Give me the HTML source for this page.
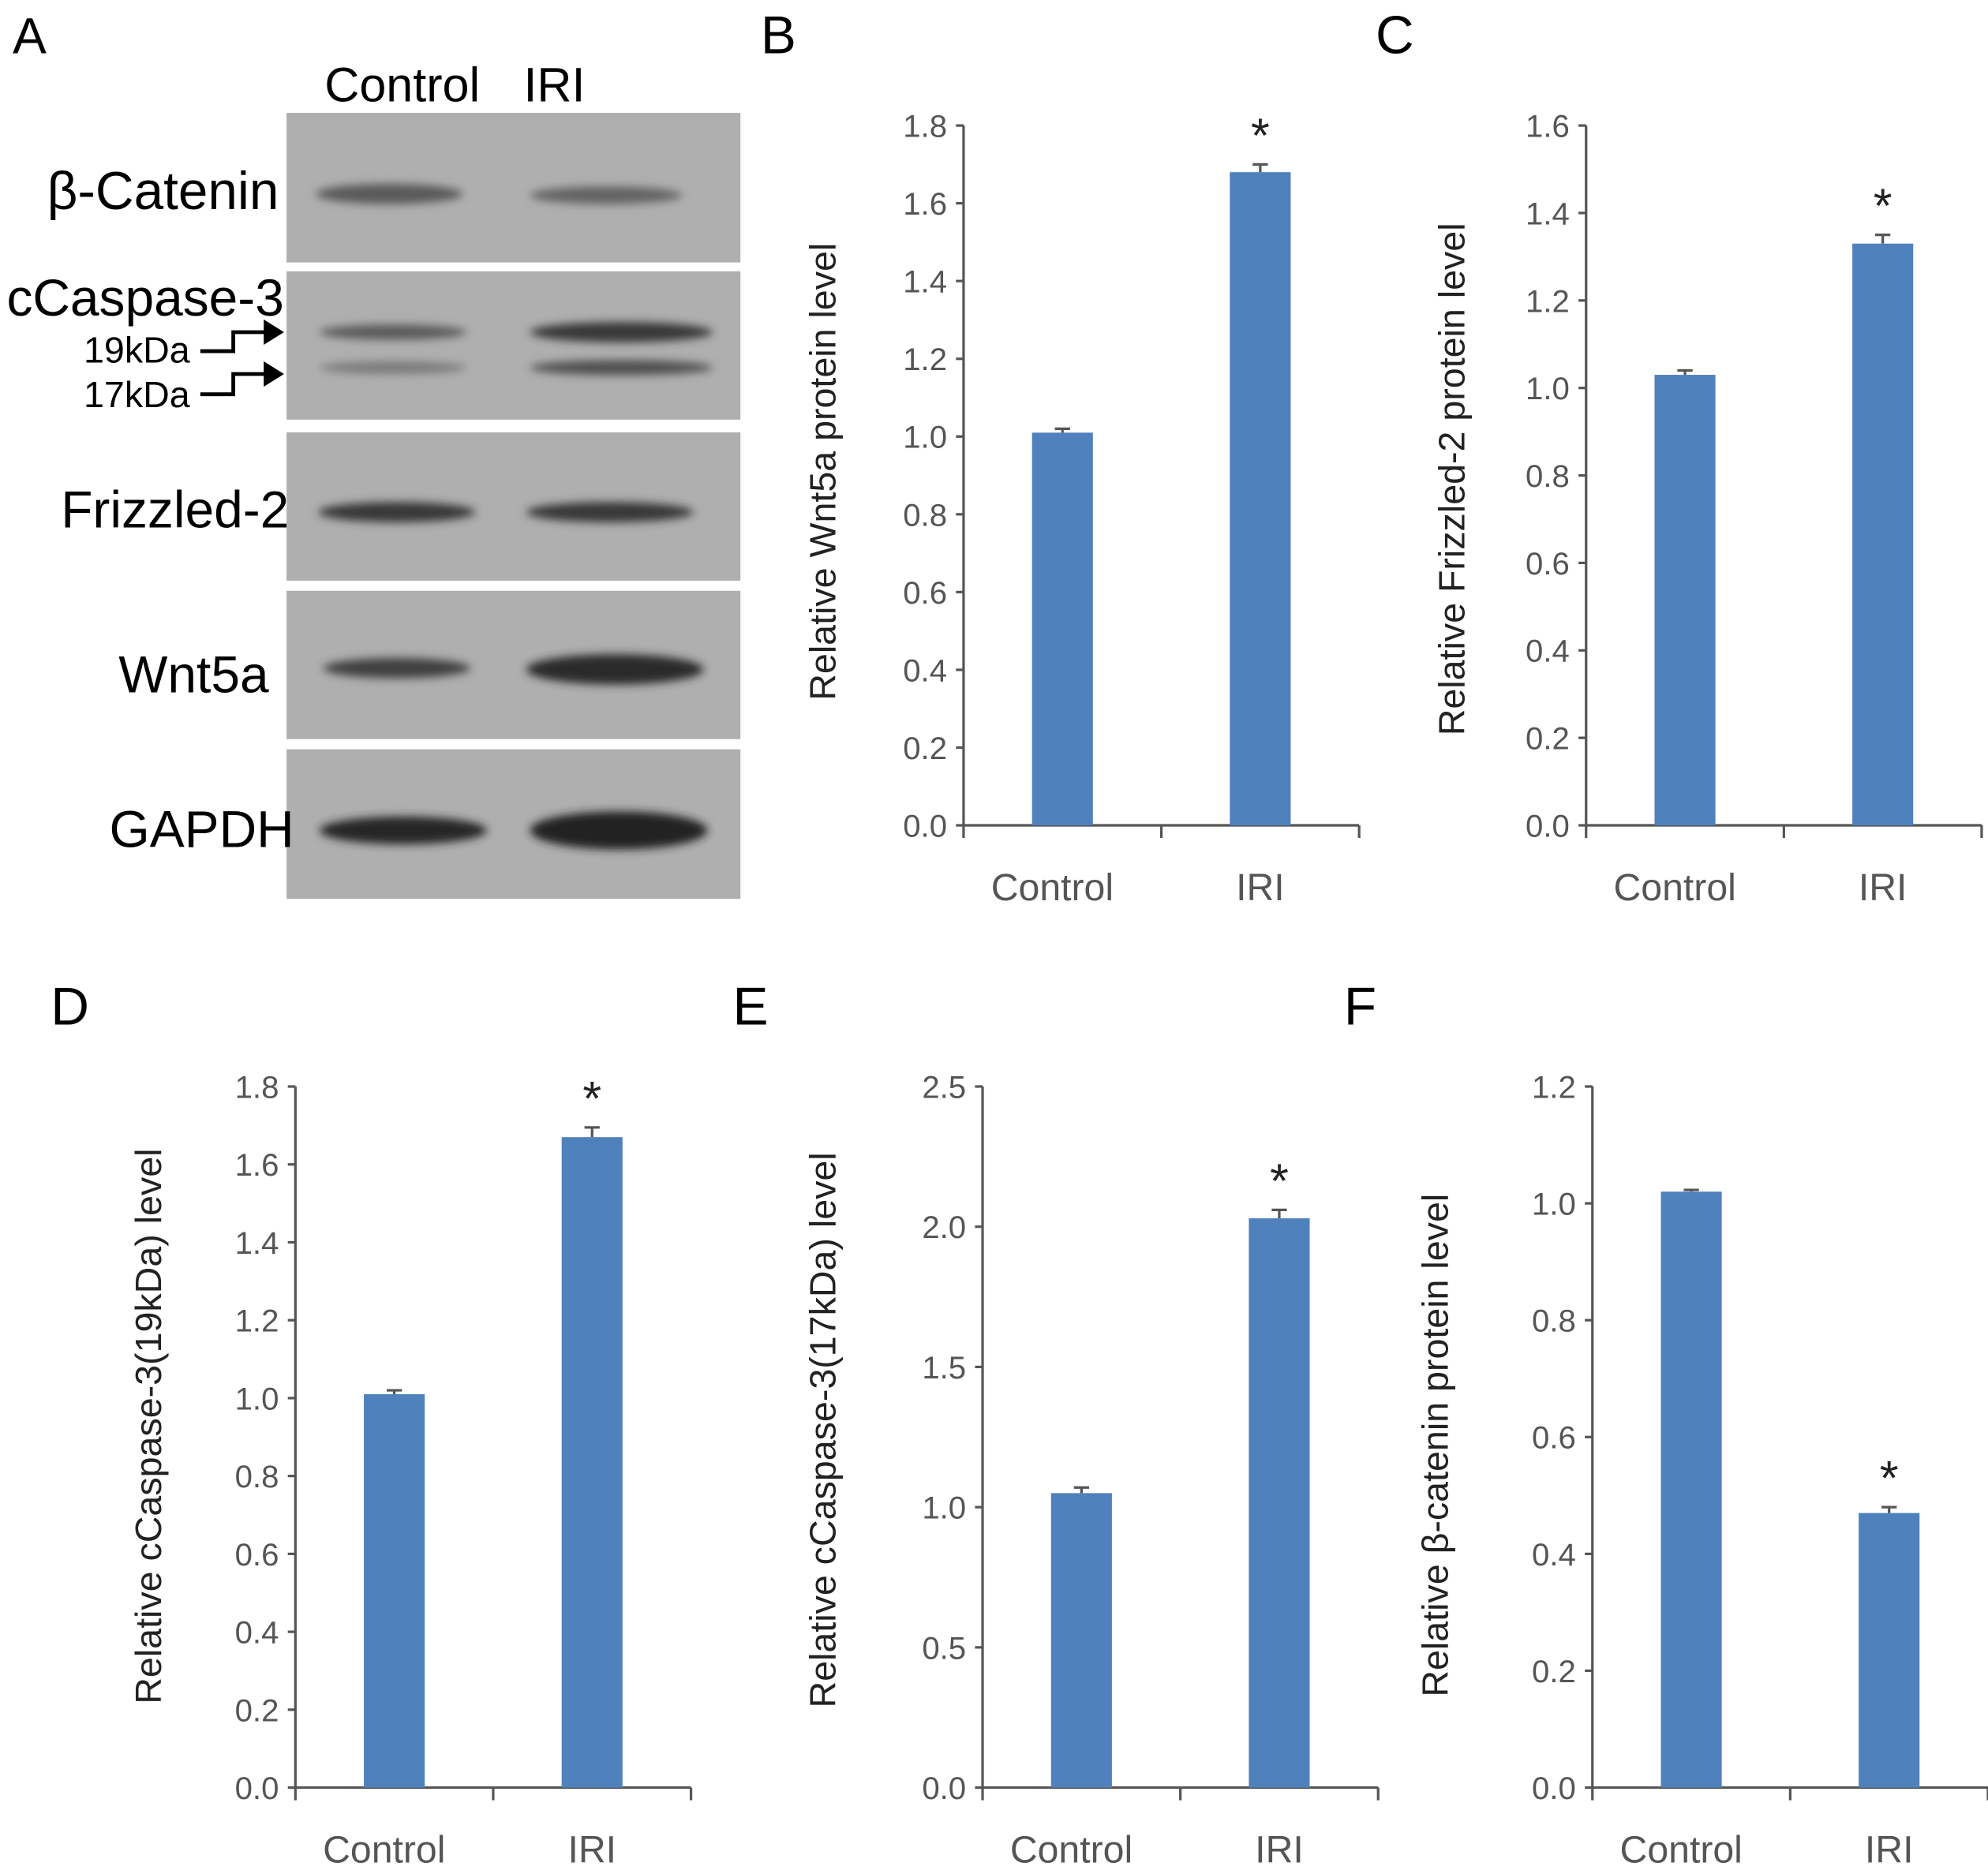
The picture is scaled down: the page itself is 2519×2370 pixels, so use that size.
<!DOCTYPE html>
<html><head><meta charset="utf-8"><style>
html,body{margin:0;padding:0;background:#fff}
svg{display:block}
</style></head><body>
<svg id="fig" width="2519" height="2370" viewBox="0 0 1568 1475" preserveAspectRatio="none" xmlns="http://www.w3.org/2000/svg" font-family="Liberation Sans, sans-serif">
<defs>
<filter id="blur" x="-20%" y="-100%" width="140%" height="300%"><feGaussianBlur stdDeviation="3.5"/></filter>
</defs>
<g>
<text x="10" y="42" font-size="40">A</text>
<text x="256" y="80" font-size="38">Control</text>
<text x="413" y="80" font-size="38">IRI</text>
<g>
<rect x="226" y="89" width="358" height="118" fill="#afafaf"/>
<ellipse cx="307" cy="153" rx="58" ry="8" fill="#5a5a5a" filter="url(#blur)"/>
<ellipse cx="478" cy="154" rx="60" ry="7" fill="#636363" filter="url(#blur)"/>
</g>
<g>
<rect x="226" y="214" width="358" height="117" fill="#afafaf"/>
<ellipse cx="310" cy="262" rx="58" ry="6" fill="#5a5a5a" filter="url(#blur)"/>
<ellipse cx="490" cy="262" rx="72" ry="8" fill="#383838" filter="url(#blur)"/>
<ellipse cx="310" cy="290" rx="58" ry="5" fill="#7a7a7a" filter="url(#blur)"/>
<ellipse cx="490" cy="290" rx="72" ry="6" fill="#505050" filter="url(#blur)"/>
</g>
<g>
<rect x="226" y="341" width="358" height="117" fill="#afafaf"/>
<ellipse cx="313" cy="404" rx="62" ry="8" fill="#383838" filter="url(#blur)"/>
<ellipse cx="481" cy="404" rx="66" ry="8" fill="#383838" filter="url(#blur)"/>
</g>
<g>
<rect x="226" y="466" width="358" height="117" fill="#afafaf"/>
<ellipse cx="313" cy="527" rx="58" ry="8" fill="#404040" filter="url(#blur)"/>
<ellipse cx="485" cy="528" rx="70" ry="12" fill="#2a2a2a" filter="url(#blur)"/>
</g>
<g>
<rect x="226" y="591" width="358" height="118" fill="#afafaf"/>
<ellipse cx="318" cy="655" rx="66" ry="11" fill="#282828" filter="url(#blur)"/>
<ellipse cx="488" cy="655" rx="70" ry="15" fill="#202020" filter="url(#blur)"/>
</g>
<text x="220" y="165" font-size="42" text-anchor="end">β-Catenin</text>
<text x="224" y="249" font-size="41" text-anchor="end">cCaspase-3</text>
<text x="66" y="286" font-size="29">19kDa</text>
<text x="66" y="321" font-size="29">17kDa</text>
<path d="M158 277 H184 V262 H210" stroke="#000" stroke-width="3" fill="none"/>
<polygon points="208,252 224,262 208,272" fill="#000"/>
<path d="M158 311 H184 V295 H210" stroke="#000" stroke-width="3" fill="none"/>
<polygon points="208,285 224,295 208,305" fill="#000"/>
<text x="228" y="416" font-size="41" text-anchor="end">Frizzled-2</text>
<text x="212" y="546" font-size="41" text-anchor="end">Wnt5a</text>
<text x="232" y="668" font-size="41" text-anchor="end">GAPDH</text>
</g>
<g id="charts"></g>
</svg>
<script>
const categories = ["Control", "IRI"];
const valuesB = [1.01, 1.68];
const errorsB = [0.01, 0.02];
const ticksB = ["0.0","0.2","0.4","0.6","0.8","1.0","1.2","1.4","1.6","1.8"];
const valuesC = [1.03, 1.33];
const errorsC = [0.01, 0.02];
const ticksC = ["0.0","0.2","0.4","0.6","0.8","1.0","1.2","1.4","1.6"];
const valuesD = [1.01, 1.67];
const errorsD = [0.01, 0.025];
const ticksD = ["0.0","0.2","0.4","0.6","0.8","1.0","1.2","1.4","1.6","1.8"];
const valuesE = [1.05, 2.03];
const errorsE = [0.02, 0.03];
const ticksE = ["0.0","0.5","1.0","1.5","2.0","2.5"];
const valuesF = [1.02, 0.47];
const errorsF = [0.003, 0.01];
const ticksF = ["0.0","0.2","0.4","0.6","0.8","1.0","1.2"];
const starFlags = [false, true];

const NS = "http://www.w3.org/2000/svg";
const root = document.getElementById("charts");
function mk(tag, attrs, parent, txt){
  const e = document.createElementNS(NS, tag);
  for (const k in attrs) e.setAttribute(k, attrs[k]);
  if (txt !== undefined) e.textContent = txt;
  parent.appendChild(e);
  return e;
}
function chart(cfg, values, errors, ticks){
  const g = mk("g", {}, root);
  
  
  const lab = mk("text", {x:cfg.lx, y:cfg.ly, "font-size":42}, g, cfg.id.toUpperCase());
  
  
  const tmax = parseFloat(ticks[ticks.length-1]);
  const y = v => cfg.y0 - (v / tmax) * (cfg.y0 - cfg.yTop);
  const w = 312;
  const x = i => cfg.x0 + w/4 + i * w/2;
  const ax = mk("g", {stroke:"#555", "stroke-width":2}, g);
  
  
  mk("line", {x1:cfg.x0, y1:cfg.yTop, x2:cfg.x0, y2:cfg.y0}, ax);
  ticks.forEach(t => {
    const yy = y(parseFloat(t));
    mk("line", {x1:cfg.x0-6, y1:yy, x2:cfg.x0, y2:yy}, ax);
    const tl = mk("text", {x:cfg.x0-13, y:yy+9, "font-size":25, "text-anchor":"end", fill:"#555", stroke:"none"}, g, t);
    
    
  });
  const xa = mk("g", {stroke:"#555", "stroke-width":2}, g);
  
  
  mk("line", {x1:cfg.x0, y1:cfg.y0, x2:cfg.x0+w, y2:cfg.y0}, xa);
  [0,1,2].forEach(i => mk("line", {x1:cfg.x0+i*w/2, y1:cfg.y0, x2:cfg.x0+i*w/2, y2:cfg.y0+10}, xa));
  categories.forEach((c,i) => {
    const b = mk("rect", {x:x(i)-24, y:y(values[i]), width:48, height:cfg.y0-y(values[i]), fill:"#4f81bd"}, g);
    
    
    const ye = y(values[i]+errors[i]);
    const eb = mk("path", {d:`M${x(i)} ${y(values[i])} V${ye} M${x(i)-6} ${ye} H${x(i)+6}`, stroke:"#555", "stroke-width":2, fill:"none"}, g);
    
    
    const cl = mk("text", {x:x(i)-(i==0?8:0), y:cfg.y0+59, "font-size":30, "text-anchor":"middle", fill:"#555"}, g, c);
    
    
    if (starFlags[i]) {
      const s = mk("text", {x:x(i), y:ye-10, "font-size":38, "text-anchor":"middle", fill:"#222"}, g, "*");
      
      
    }
  });
  const yt = mk("text", {x:0, y:0, "font-size":29, "text-anchor":"middle", fill:"#222",
    transform:`translate(${cfg.tx},${cfg.ty}) rotate(-90)`}, g, cfg.title);
  
  
}
chart({id:"b", lx:600, ly:42, x0:760, y0:651, yTop:99, tx:659, ty:372, title:"Relative Wnt5a protein level"}, valuesB, errorsB, ticksB);
chart({id:"c", lx:1085, ly:42, x0:1251, y0:651, yTop:99, tx:1155, ty:378, title:"Relative Frizzled-2 protein level"}, valuesC, errorsC, ticksC);
chart({id:"d", lx:40, ly:808, x0:233, y0:1410, yTop:857, tx:127, ty:1125, title:"Relative cCaspase-3(19kDa) level"}, valuesD, errorsD, ticksD);
chart({id:"e", lx:578, ly:808, x0:775, y0:1410, yTop:857, tx:659, ty:1128, title:"Relative cCaspase-3(17kDa) level"}, valuesE, errorsE, ticksE);
chart({id:"f", lx:1060, ly:808, x0:1256, y0:1410, yTop:857, tx:1142, ty:1140, title:"Relative β-catenin protein level"}, valuesF, errorsF, ticksF);
</script>
</body></html>
